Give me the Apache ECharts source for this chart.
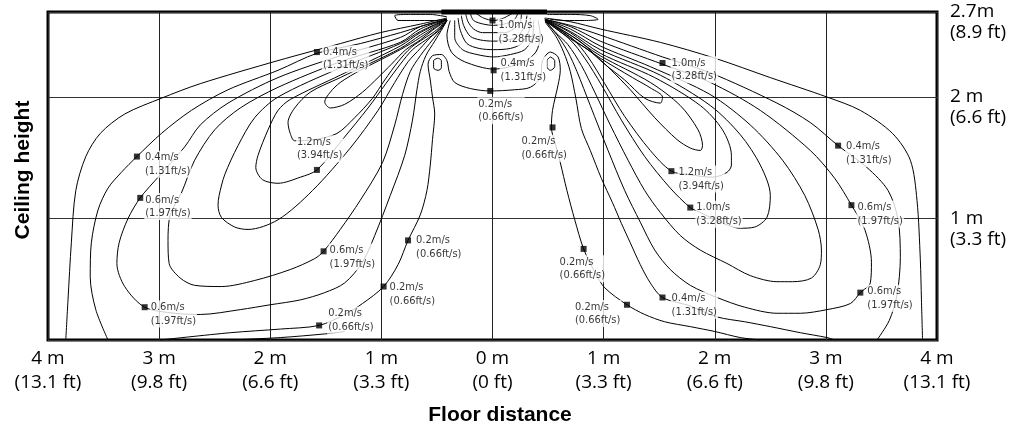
<!DOCTYPE html>
<html><head><meta charset="utf-8">
<script src="https://cdn.jsdelivr.net/npm/echarts@6/dist/echarts.min.js"></script>
<style>html,body{margin:0;padding:0;background:#fff}#c{width:1017px;height:427px}</style>
</head><body><div id="c"></div>
<script>
// ---------- axis ticks ----------
const xTickValues = [-4,-3,-2,-1,0,1,2,3,4];
const xTickLabels = ["4 m\n(13.1 ft)","3 m\n(9.8 ft)","2 m\n(6.6 ft)","1 m\n(3.3 ft)","0 m\n(0 ft)","1 m\n(3.3 ft)","2 m\n(6.6 ft)","3 m\n(9.8 ft)","4 m\n(13.1 ft)"];
const yTickValues = [1,2,2.7];
const yTickLabels = ["1 m\n(3.3 ft)","2 m\n(6.6 ft)","2.7m\n(8.9 ft)"];
const xTitle = "Floor distance";
const yTitle = "Ceiling height";
const diffuserSpan = [[-0.46,2.7],[0.49,2.7]];

// ---------- contour lines (m, m) : left jet ----------
const C1 = [[-0.41,2.65],[-0.65,2.60],[-1.01,2.53],[-1.37,2.44],[-1.93,2.30],[-2.63,2.11],[-2.98,1.99],[-3.31,1.86],[-3.53,1.70],[-3.66,1.51],[-3.75,1.23],[-3.79,0.80],[-3.82,0.33],[-3.84,0]];
const C2 = [[-0.41,2.64],[-0.65,2.58],[-0.83,2.53],[-1.19,2.44],[-1.58,2.36],[-1.93,2.22],[-2.38,2.06],[-2.71,1.89],[-2.98,1.70],[-3.20,1.51],[-3.34,1.38],[-3.46,1.25],[-3.55,1.07],[-3.61,0.80],[-3.62,0.52],[-3.57,0.25],[-3.46,0]];
const C3 = [[-0.41,2.64],[-0.65,2.58],[-0.83,2.49],[-1.37,2.34],[-1.93,2.16],[-2.38,1.95],[-2.63,1.77],[-2.77,1.59],[-2.99,1.36],[-3.17,1.17],[-3.28,1.00],[-3.36,0.80],[-3.38,0.63],[-3.31,0.44],[-3.13,0.27],[-2.86,0.22],[-2.63,0.21],[-2.27,0.25],[-2.00,0.29],[-1.73,0.33],[-1.51,0.39],[-1.33,0.47],[-1.17,0.64],[-1.06,0.86],[-0.92,1.19],[-0.79,1.52],[-0.72,1.81],[-0.68,2.06],[-0.65,2.21],[-0.60,2.34],[-0.52,2.46],[-0.46,2.55],[-0.41,2.63]];
const C4 = [[-0.41,2.64],[-0.65,2.56],[-0.83,2.45],[-1.37,2.29],[-1.93,2.08],[-2.27,1.91],[-2.50,1.73],[-2.68,1.48],[-2.80,1.21],[-2.90,1.03],[-2.92,0.82],[-2.91,0.63],[-2.81,0.51],[-2.68,0.45],[-2.44,0.44],[-2.14,0.49],[-1.82,0.58],[-1.60,0.67],[-1.52,0.73],[-1.37,0.91],[-1.19,1.15],[-0.99,1.46],[-0.88,1.77],[-0.81,2.02],[-0.74,2.21],[-0.65,2.34],[-0.54,2.47],[-0.47,2.55],[-0.41,2.63]];
const C5 = [[-0.41,2.64],[-0.65,2.54],[-0.83,2.44],[-1.37,2.24],[-1.93,2.00],[-2.14,1.83],[-2.29,1.60],[-2.41,1.36],[-2.46,1.19],[-2.47,1.11],[-2.44,1.01],[-2.32,0.93],[-2.20,0.91],[-1.93,0.99],[-1.62,1.23],[-1.28,1.58],[-1.03,1.89],[-0.88,2.12],[-0.76,2.29],[-0.65,2.40],[-0.56,2.49],[-0.48,2.55],[-0.41,2.63]];
const C6 = [[-0.41,2.64],[-0.65,2.53],[-0.83,2.42],[-1.37,2.18],[-1.82,1.98],[-1.93,1.89],[-2.02,1.73],[-2.11,1.52],[-2.13,1.42],[-2.07,1.32],[-1.93,1.29],[-1.73,1.34],[-1.58,1.40],[-1.35,1.65],[-1.12,1.91],[-0.96,2.11],[-0.83,2.27],[-0.72,2.39],[-0.60,2.47],[-0.50,2.54],[-0.41,2.63]];
const C7 = [[-0.41,2.64],[-0.65,2.51],[-0.83,2.40],[-1.37,2.16],[-1.64,2.04],[-1.78,1.91],[-1.84,1.79],[-1.82,1.70],[-1.78,1.64],[-1.60,1.65],[-1.40,1.70],[-1.24,1.83],[-1.08,1.99],[-0.97,2.14],[-0.85,2.29],[-0.73,2.41],[-0.62,2.48],[-0.52,2.54],[-0.41,2.63]];
const C8 = [[-0.41,2.64],[-0.65,2.49],[-0.83,2.39],[-1.19,2.22],[-1.37,2.12],[-1.46,2.04],[-1.51,1.96],[-1.46,1.91],[-1.33,1.94],[-1.17,2.04],[-1.03,2.16],[-0.91,2.27],[-0.78,2.39],[-0.65,2.47],[-0.54,2.55],[-0.41,2.63]];
const C9 = [[-0.41,2.66],[-0.56,2.68],[-0.74,2.68],[-0.88,2.67],[-0.85,2.63],[-0.70,2.63],[-0.52,2.63],[-0.41,2.64]];

// ---------- centre (low velocity) ----------
const P02 = [[-2.99,0],[-2.36,0.06],[-1.91,0.09],[-1.56,0.12],[-1.33,0.21],[-1.17,0.30],[-0.98,0.44],[-0.85,0.62],[-0.76,0.82],[-0.65,1.03],[-0.59,1.23],[-0.56,1.44],[-0.54,1.65],[-0.52,1.86],[-0.54,2.00],[-0.56,2.14],[-0.58,2.27],[-0.54,2.34],[-0.46,2.35],[-0.41,2.30],[-0.39,2.21],[-0.34,2.12],[-0.20,2.07],[-0.02,2.05],[0.20,2.06],[0.34,2.08],[0.43,2.16],[0.45,2.30],[0.52,2.37],[0.59,2.33],[0.61,2.22],[0.59,2.10],[0.54,1.89],[0.53,1.75],[0.57,1.60],[0.61,1.46],[0.67,1.23],[0.74,0.99],[0.82,0.75],[0.92,0.56],[1.01,0.43],[1.21,0.29],[1.37,0.21],[1.55,0.15],[1.78,0.11],[2.00,0.07],[2.23,0.02],[2.41,0]];
const Q01 = [[-2.36,0],[-1.91,0.02],[-1.51,0.05],[-1.33,0.07]];
const OLeft = [[-0.49,2.32],[-0.46,2.30],[-0.46,2.24],[-0.49,2.22],[-0.53,2.24],[-0.53,2.30],[-0.49,2.32]];
const ORight = [[0.52,2.33],[0.56,2.30],[0.56,2.25],[0.52,2.22],[0.49,2.25],[0.49,2.30],[0.52,2.33]];
const K0 = [[-0.15,2.69],[-0.08,2.65],[0.01,2.63],[0.10,2.65],[0.18,2.69]];
const K1 = [[-0.20,2.69],[-0.17,2.63],[-0.08,2.60],[0.01,2.59],[0.10,2.60],[0.19,2.63],[0.23,2.69]];
const K2 = [[-0.24,2.68],[-0.22,2.62],[-0.17,2.56],[-0.09,2.53],[0.01,2.53],[0.11,2.53],[0.19,2.56],[0.25,2.62],[0.26,2.68]];
const K3 = [[-0.28,2.67],[-0.26,2.59],[-0.20,2.50],[-0.11,2.47],[0.01,2.46],[0.14,2.47],[0.23,2.50],[0.29,2.59],[0.31,2.67]];
const K4 = [[-0.31,2.65],[-0.29,2.55],[-0.23,2.44],[-0.12,2.40],[0.01,2.39],[0.16,2.40],[0.26,2.44],[0.33,2.55],[0.34,2.65]];
const K4b = [[-0.34,2.63],[-0.34,2.49],[-0.27,2.39],[-0.14,2.35],[0.01,2.33],[0.16,2.35],[0.29,2.39],[0.36,2.49],[0.37,2.63]];
const K5 = [[-0.38,2.63],[-0.41,2.51],[-0.37,2.37],[-0.25,2.29],[0.01,2.23],[0.26,2.28],[0.39,2.37],[0.43,2.51],[0.41,2.63]];

// ---------- right jet ----------
const R1 = [[0.47,2.65],[0.70,2.62],[0.97,2.56],[1.51,2.45],[2.00,2.32],[2.50,2.16],[3.01,2.00],[3.31,1.89],[3.60,1.70],[3.76,1.48],[3.82,1.15],[3.85,0.66],[3.86,0.33],[3.87,0]];
const R2 = [[0.47,2.64],[0.70,2.59],[0.97,2.51],[1.53,2.33],[1.96,2.20],[2.56,1.95],[2.86,1.79],[3.11,1.60],[3.37,1.42],[3.56,1.23],[3.65,0.99],[3.67,0.68],[3.64,0.37],[3.57,0.16],[3.46,0]];
const R3 = [[0.47,2.64],[0.70,2.58],[0.97,2.46],[1.53,2.27],[1.96,2.12],[2.41,1.89],[2.86,1.56],[3.08,1.33],[3.23,1.11],[3.35,0.91],[3.41,0.64],[3.40,0.47],[3.31,0.39],[3.22,0.30],[3.01,0.25],[2.77,0.22],[2.56,0.22],[2.27,0.27],[2.02,0.35],[1.78,0.45],[1.60,0.58],[1.46,0.74],[1.33,0.97],[1.19,1.23],[1.04,1.56],[0.88,1.93],[0.76,2.21],[0.68,2.37],[0.59,2.50],[0.47,2.63]];
const R4 = [[0.47,2.64],[0.70,2.56],[0.97,2.42],[1.42,2.25],[1.96,2.02],[2.32,1.77],[2.61,1.48],[2.81,1.19],[2.93,0.91],[2.96,0.74],[2.95,0.62],[2.87,0.51],[2.70,0.48],[2.56,0.48],[2.32,0.53],[2.11,0.63],[1.87,0.74],[1.69,0.86],[1.51,1.05],[1.37,1.23],[1.22,1.48],[1.06,1.77],[0.92,2.04],[0.80,2.26],[0.68,2.43],[0.57,2.53],[0.47,2.63]];
const R5 = [[0.47,2.64],[0.70,2.54],[0.97,2.39],[1.51,2.18],[1.96,1.93],[2.23,1.69],[2.41,1.44],[2.50,1.19],[2.47,1.01],[2.36,0.93],[2.23,0.92],[2.05,0.97],[1.87,1.05],[1.78,1.09],[1.60,1.25],[1.37,1.51],[1.16,1.81],[0.98,2.10],[0.83,2.32],[0.70,2.47],[0.47,2.63]];
const R6 = [[0.47,2.64],[0.70,2.53],[0.97,2.36],[1.46,2.16],[1.87,1.93],[2.07,1.73],[2.15,1.52],[2.15,1.44],[2.11,1.38],[1.98,1.34],[1.78,1.36],[1.61,1.39],[1.42,1.56],[1.19,1.84],[1.01,2.11],[0.86,2.33],[0.72,2.48],[0.47,2.63]];
const R6b = [[0.47,2.64],[0.70,2.51],[0.97,2.34],[1.42,2.12],[1.69,1.93],[1.85,1.73],[1.89,1.60],[1.87,1.56],[1.78,1.58],[1.66,1.65],[1.46,1.83],[1.24,2.06],[1.07,2.22],[0.92,2.35],[0.77,2.47],[0.47,2.63]];
const R7 = [[0.47,2.64],[0.70,2.49],[0.97,2.32],[1.26,2.16],[1.43,2.07],[1.53,2.00],[1.51,1.95],[1.37,1.99],[1.19,2.14],[1.01,2.27],[0.86,2.39],[0.70,2.48],[0.47,2.63]];
const R9 = [[0.49,2.68],[0.70,2.68],[0.88,2.67],[0.95,2.64],[0.83,2.63],[0.65,2.63],[0.52,2.64]];
const S04 = [[0.47,2.62],[0.57,2.50],[0.64,2.37],[0.70,2.21],[0.75,1.99],[0.80,1.74],[0.88,1.56],[0.98,1.33],[1.08,1.13],[1.16,0.96],[1.24,0.80],[1.33,0.62],[1.42,0.47],[1.53,0.35],[1.78,0.28],[2.02,0.19],[2.27,0.15],[2.50,0.11],[2.77,0.06],[3.01,0.02],[3.08,0]];

const contours = [C1,C2,C3,C4,C5,C6,C7,C8,C9,P02,Q01,OLeft,ORight,K0,K1,K2,K3,K4,K4b,K5,R1,R2,R3,R4,R5,R6,R6b,R7,R9,S04];

// ---------- labelled points ----------
const markerPoints = [[-1.58,2.37],[-3.20,1.51],[-3.17,1.17],[-3.13,0.27],[-1.58,1.40],[-1.52,0.73],[-0.76,0.82],[-0.98,0.44],[-1.56,0.12],[0.00,2.63],[0.01,2.22],[-0.02,2.05],[0.54,1.75],[1.53,2.28],[3.11,1.60],[1.61,1.39],[1.78,1.09],[3.23,1.11],[0.82,0.75],[1.21,0.29],[1.53,0.35],[3.31,0.39]];
const markerSpeeds = [0.4,0.4,0.6,0.6,1.2,0.6,0.2,0.2,0.2,1.0,0.4,0.2,0.2,1.0,0.4,1.2,1.0,0.6,0.2,0.2,0.4,0.6];
const speedValues = [0.2,0.4,0.6,1.0,1.2];
const speedTexts = ["0.2m/s\n(0.66ft/s)","0.4m/s\n(1.31ft/s)","0.6m/s\n(1.97ft/s)","1.0m/s\n(3.28ft/s)","1.2m/s\n(3.94ft/s)"];

// label placement (style): [text left offset, first-line centre offset] in px
const labelPlace = [[6,0],[8,1],[5,2],[6,0],[-20,-28],[6,-1],[8,0],[6,1],[9,-12],[6,5],[7,-7],[-12,13],[-31,14],[9,0],[8,1],[7,1],[6,0],[6,2],[-24,13],[-52,2],[9,1],[7,-1]];
const LH = 13.5;

const chart = echarts.init(document.getElementById('c'), null, {renderer:'canvas'});
const series = contours.map(d => ({
  type:'line', data:d, smooth:0.3, symbol:'none', showSymbol:false, silent:true,
  lineStyle:{color:'#000', width:1}, z:3, animation:false
}));
series.push({type:'line', data:diffuserSpan, symbol:'none', lineStyle:{color:'#000', width:5}, z:6, clip:false, animation:false, silent:true});
series.push({
  type:'scatter', symbol:'rect', symbolSize:6, itemStyle:{color:'#000'}, z:10, animation:false, silent:true,
  data: markerPoints.map((p,i) => ({
    value:p,
    label:{
      show:true,
      formatter: speedTexts[speedValues.indexOf(markerSpeeds[i])],
      position:[labelPlace[i][0]+2, labelPlace[i][1]-LH/2+3],
      align:'left', verticalAlign:'top',
      fontFamily:"'Liberation Sans Narrow','DejaVu Sans Condensed','Arial Narrow',sans-serif",
      fontSize:11, lineHeight:LH, color:'#000',
      backgroundColor:'#fff', padding:[0,1,0,1]
    }
  }))
});

const near = (a,b) => Math.abs(a-b) < 1e-6;
chart.setOption({
  animation:false,
  backgroundColor:'#fff',
  grid:{left:48, right:80, top:12, bottom:87, show:true, borderColor:'#000', borderWidth:3, backgroundColor:'transparent', containLabel:false, outerBoundsMode:'none'},
  xAxis:{
    type:'value', min:-4, max:4, interval:1,
    axisLine:{show:false}, axisTick:{show:false},
    splitLine:{show:true, lineStyle:{color:'#222', width:1}},
    axisLabel:{
      show:true, showMinLabel:true, showMaxLabel:true, margin:7,
      fontFamily:"'Open Sans','Noto Sans',sans-serif", fontSize:19, lineHeight:24, color:'#000',
      formatter: v => { const i = xTickValues.findIndex(t => near(t,v)); return i>=0 ? xTickLabels[i] : ''; }
    }
  },
  yAxis:{
    type:'value', min:0, max:2.7, interval:1, position:'right',
    axisLine:{show:false}, axisTick:{show:false},
    splitLine:{show:true, lineStyle:{color:'#333', width:1}},
    axisLabel:{
      show:true, showMinLabel:true, showMaxLabel:true, margin:13,
      fontFamily:"'Open Sans','Noto Sans',sans-serif", fontSize:19, lineHeight:21, color:'#000',
      verticalAlign:'middle',
      formatter: v => { const i = yTickValues.findIndex(t => near(t,v)); return i>=0 ? '\n' + yTickLabels[i] : ''; }
    }
  },
  graphic:[
    {type:'text', x:500, y:415, silent:true,
     style:{text:xTitle, fontSize:21, fontWeight:'bold', fontFamily:"'Liberation Sans',Arial,sans-serif", fill:'#000', align:'center', verticalAlign:'middle', textAlign:'center', textVerticalAlign:'middle'}},
    {type:'text', x:23, y:170, rotation:Math.PI/2, silent:true,
     style:{text:yTitle, fontSize:21, fontWeight:'bold', fontFamily:"'Liberation Sans',Arial,sans-serif", fill:'#000', align:'center', verticalAlign:'middle', textAlign:'center', textVerticalAlign:'middle'}}
  ],
  series: series
});
</script></body></html>
